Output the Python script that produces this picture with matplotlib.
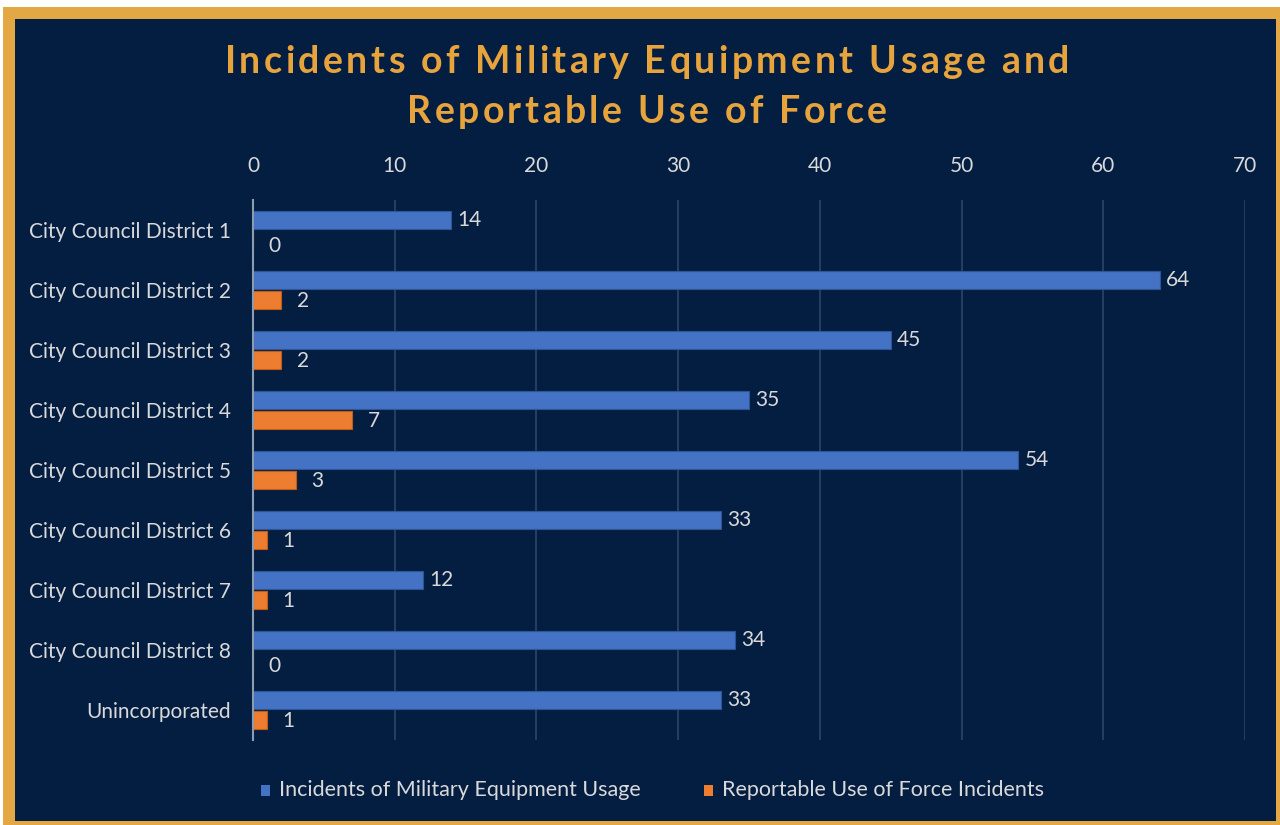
import matplotlib
matplotlib.use("Agg")
import matplotlib.pyplot as plt
from matplotlib.patches import Rectangle
import numpy as np

categories = ["City Council District 1", "City Council District 2", "City Council District 3",
              "City Council District 4", "City Council District 5", "City Council District 6",
              "City Council District 7", "City Council District 8", "Unincorporated"]
equipment_usage = [14, 64, 45, 35, 54, 33, 12, 34, 33]
use_of_force = [0, 2, 2, 7, 3, 1, 1, 0, 1]
series_names = ["Incidents of Military Equipment Usage", "Reportable Use of Force Incidents"]
x_ticks = [0, 10, 20, 30, 40, 50, 60, 70]
title_lines = ["Incidents of Military Equipment Usage and", "Reportable Use of Force"]

W, H = 1280, 825
NAVY = "#041E42"
GOLD = "#E3A744"
BLUE = "#4472C4"
ORANGE = "#ED7D31"
TXT = "#D9D9D9"
FS = 15

plt.rcParams['font.family'] = ['Lato', 'DejaVu Sans']

fig = plt.figure(figsize=(W/100, H/100), dpi=100, facecolor="white")

def fx(px): return px / W
def fy(py): return 1 - py / H

fig.add_artist(Rectangle((fx(3), fy(825)), fx(1280) - fx(3), fy(7) - fy(825),
                         transform=fig.transFigure, facecolor=GOLD, edgecolor="none", zorder=0))
fig.add_artist(Rectangle((fx(15), fy(821)), fx(1276) - fx(15), fy(19) - fy(821),
                         transform=fig.transFigure, facecolor=NAVY, edgecolor="none", zorder=0))

ax = fig.add_axes([fx(253), fy(740), fx(1245) - fx(253), fy(200) - fy(740)])
ax.set_facecolor("none")

n = len(categories)
y = np.arange(n)
h = 0.3
off = 0.167
ax.barh(y - off, equipment_usage, height=h, color=BLUE, edgecolor="#2F5597", linewidth=0.8, zorder=3)
ax.barh(y + off, use_of_force, height=h, color=ORANGE, edgecolor="#C55A11", linewidth=0.8, zorder=3)

for i in range(n):
    ax.annotate(str(equipment_usage[i]), (equipment_usage[i], y[i] - off), xytext=(4.5, 0),
                textcoords="offset points", va="center", ha="left", color=TXT, fontsize=FS)
    ax.annotate(str(use_of_force[i]), (use_of_force[i], y[i] + off), xytext=(11, -1 if use_of_force[i] else -4),
                textcoords="offset points", va="center", ha="left", color=TXT, fontsize=FS)

ax.set_xlim(0, 70)
ax.set_ylim(n - 0.5, -0.5)
ax.set_xticks(x_ticks)
ax.xaxis.tick_top()
ax.tick_params(axis="x", length=0, pad=17, labelcolor=TXT, labelsize=FS)
ax.set_yticks(y)
ax.set_yticklabels(categories)
ax.tick_params(axis="y", length=0, pad=16, labelcolor=TXT, labelsize=FS)
ax.grid(axis="x", color="#2C4466", linewidth=1.2, zorder=0)
for s in ["top", "right", "bottom"]:
    ax.spines[s].set_visible(False)
ax.spines["left"].set_color("#8C9BAE")
ax.spines["left"].set_linewidth(1.5)
ax.spines["left"].set_zorder(4)

# title with letter spacing
renderer = fig.canvas.get_renderer()
TITLE_FS = 27
SPACING = 3.4  # px between letters
title_y = [62, 112]
for line, yy in zip(title_lines, title_y):
    def width(s):
        if not s:
            return 0.0
        t = fig.text(0, 0, s, fontsize=TITLE_FS, fontweight="bold")
        w = t.get_window_extent(renderer=renderer).width
        t.remove()
        return w
    total = width(line) + SPACING * (len(line) - 1)
    x0 = 647 - total / 2
    for i, ch in enumerate(line):
        if ch == " ":
            continue
        xpos = x0 + width(line[:i].replace(" ", "\u00a0")) + SPACING * i
        fig.text(fx(xpos), fy(yy), ch, ha="left", va="center", color="#E8A43C",
                 fontsize=TITLE_FS, fontweight="bold")

# legend
fig.add_artist(Rectangle((fx(261), fy(796)), fx(9), 11/H, transform=fig.transFigure,
                         facecolor=BLUE, edgecolor="none"))
fig.text(fx(279), fy(790), series_names[0], ha="left", va="center", color=TXT, fontsize=15.5)
fig.add_artist(Rectangle((fx(704), fy(796)), fx(9), 11/H, transform=fig.transFigure,
                         facecolor=ORANGE, edgecolor="none"))
fig.text(fx(722), fy(790), series_names[1], ha="left", va="center", color=TXT, fontsize=15.5)

fig.savefig("out.png", dpi=100, facecolor=fig.get_facecolor())
